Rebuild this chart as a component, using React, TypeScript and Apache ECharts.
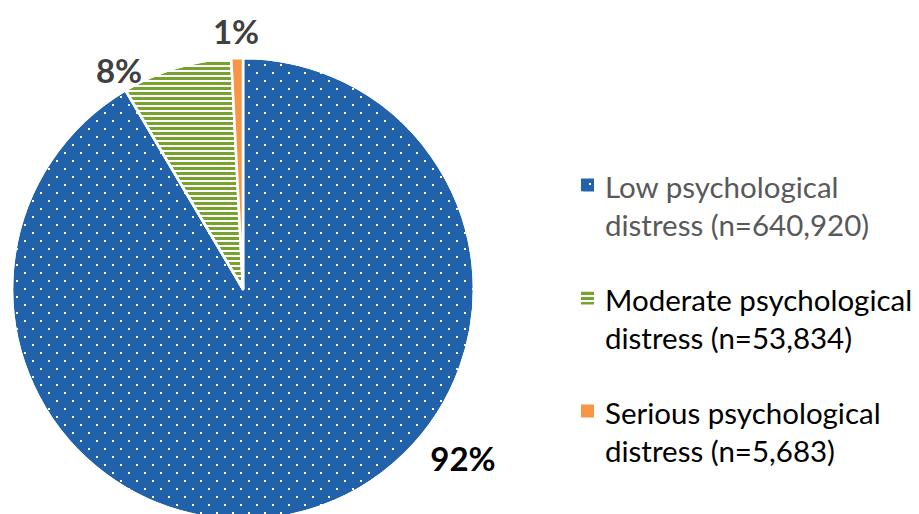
import React, { useEffect, useRef } from "react";
import * as echarts from "echarts";

const categories = [
  "Low psychological distress (n=640,920)",
  "Moderate psychological distress (n=53,834)",
  "Serious psychological distress (n=5,683)",
];
const counts = [640920, 53834, 5683];
const percentLabels = ["92%", "8%", "1%"];
const colors = ["#2262AA", "#77A22F", "#F79646"];
const legendTextColors = ["#595959", "#000000", "#000000"];
const labelColors = ["#000000", "#404040", "#404040"];
const labelPositions = [
  [463, 458],
  [119, 70],
  [236, 31],
];

const decals: any[] = [
  {
    symbol: "rect",
    symbolSize: 1,
    color: "#ffffff",
    dashArrayX: [[2, 14], [0, 8, 2, 6]],
    dashArrayY: [2, 6],
  },
  {
    symbol: "rect",
    symbolSize: 1,
    color: "#ffffff",
    dashArrayX: [1, 0],
    dashArrayY: [1.6, 2.4],
  },
  null,
];

// legend icon: a 13x13 square at the first text line, inside a 19x76 box
const legendIcon = "path://M0,0 M19,76 M0,11.5 L13,11.5 L13,24.5 L0,24.5 Z";

export default function App() {
  const ref = useRef<HTMLDivElement>(null);
  useEffect(() => {
    if (!ref.current) return;
    const chart = echarts.init(ref.current, undefined, { renderer: "svg" });
    const font = "Lato, 'Noto Sans', sans-serif";
    chart.setOption({
      animation: false,
      backgroundColor: "#ffffff",
      legend: {
        orient: "vertical",
        left: 581,
        top: 167,
        padding: 0,
        itemWidth: 19,
        itemHeight: 76,
        itemGap: 37,
        icon: legendIcon,
        selectedMode: false,
        itemStyle: { borderWidth: 0 },
        formatter: (name: string) => name.replace(" distress", "\ndistress"),
        textStyle: {
          fontFamily: font,
          fontSize: 29.5,
          lineHeight: 38,
        },
        data: categories.map((c, i) => ({
          name: c,
          textStyle: { color: legendTextColors[i] },
        })),
      },
      series: [
        {
          type: "pie",
          center: [243, 289],
          radius: [0, 231],
          startAngle: 90,
          clockwise: true,
          avoidLabelOverlap: false,
          itemStyle: { borderColor: "#ffffff", borderWidth: 2.5 },
          labelLine: { show: false },
          labelLayout: (p: any) => ({
            x: labelPositions[p.dataIndex][0],
            y: labelPositions[p.dataIndex][1],
            align: "center",
            verticalAlign: "middle",
          }),
          data: categories.map((c, i) => ({
            name: c,
            value: counts[i],
            itemStyle: { color: colors[i], decal: decals[i] || undefined },
            label: {
              show: true,
              position: "outside",
              formatter: percentLabels[i],
              color: labelColors[i],
              fontFamily: font,
              fontWeight: "bold",
              fontSize: 33,
            },
          })),
        },
      ],
    });
    return () => chart.dispose();
  }, []);
  return (
    <div
      ref={ref}
      style={{ position: "fixed", left: 0, top: 0, width: 919, height: 514 }}
    />
  );
}
